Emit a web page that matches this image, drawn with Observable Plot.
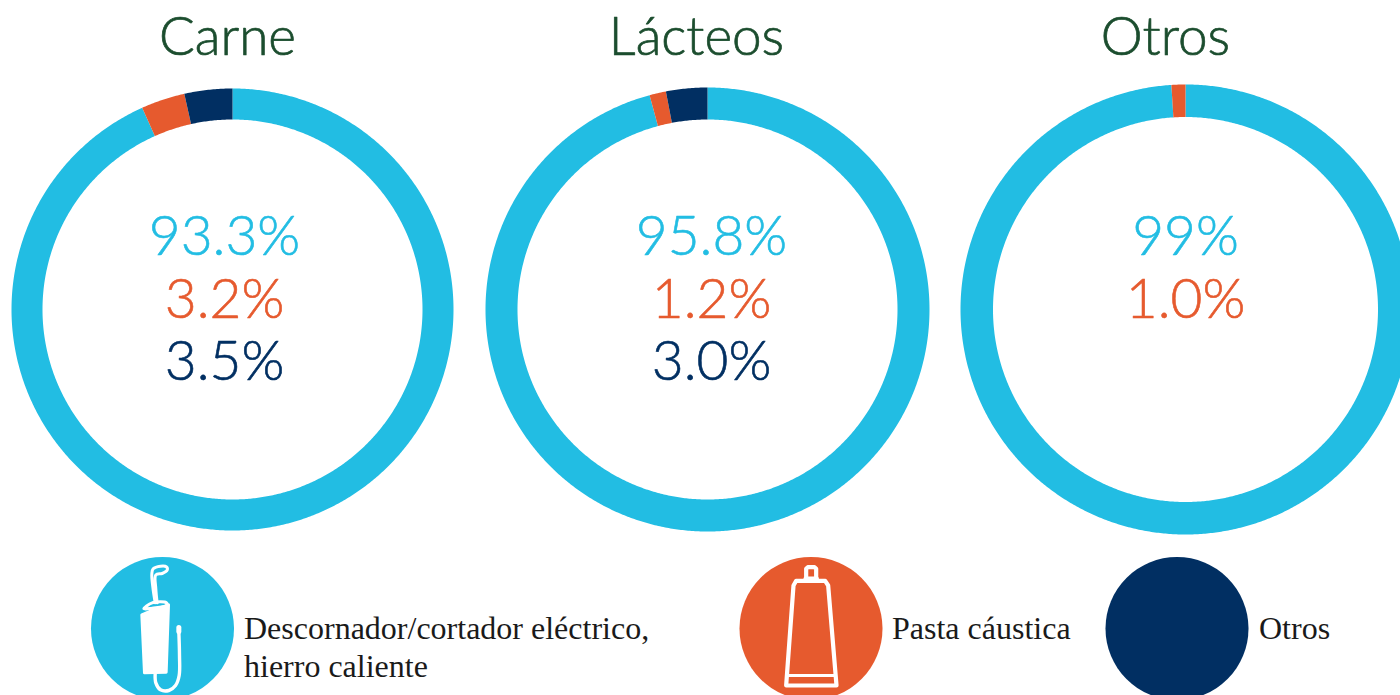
<!DOCTYPE html>
<html>
<head>
<meta charset="utf-8">
<script src="https://cdn.jsdelivr.net/npm/d3@7"></script>
<script src="https://cdn.jsdelivr.net/npm/@observablehq/plot@0.6"></script>
<style>
html,body{margin:0;padding:0;background:#fff;overflow:hidden}
svg{display:block}
</style>
</head>
<body>
<div id="chart"></div>
<script>
const BLUE = "#22BDE3", ORANGE = "#E65A2E", NAVY = "#012F62", GREEN = "#1B4D2E";

const categories = ["Descornador/cortador eléctrico, hierro caliente", "Pasta cáustica", "Otros"];
const categoryColors = [BLUE, ORANGE, NAVY];
const groups = ["Carne", "Lácteos", "Otros"];
const carneValues = [93.3, 3.2, 3.5];
const lacteosValues = [95.8, 1.2, 3.0];
const otrosValues = [99, 1.0, 0];
const carneLabels = ["93.3%", "3.2%", "3.5%"];
const lacteosLabels = ["95.8%", "1.2%", "3.0%"];
const otrosLabels = ["99%", "1.0%"];

// layout of the three rings
const rings = [
  {name: groups[0], values: carneValues, labels: carneLabels, cx: 232, cy: 309, R: 221, r: 190, titleX: 227, labelX: 224},
  {name: groups[1], values: lacteosValues, labels: lacteosLabels, cx: 707, cy: 309, R: 222, r: 190, titleX: 696, labelX: 711},
  {name: groups[2], values: otrosValues, labels: otrosLabels, cx: 1185, cy: 309, R: 225, r: 192.5, titleX: 1165, labelX: 1185}
];

// ring slices as closed outlines, derived from the values
const slicePts = [];
rings.forEach((ring, i) => {
  let acc = 0;
  ring.values.forEach((v, j) => {
    if (!v) return;
    const a0 = acc / 100 * 2 * Math.PI, a1 = (acc + v) / 100 * 2 * Math.PI;
    acc += v;
    const n = Math.max(2, Math.ceil((a1 - a0) / 0.008));
    const id = `${i}-${j}`;
    const at = (rad, a) => ({id, color: categoryColors[j], x: ring.cx + rad * Math.sin(a), y: ring.cy - rad * Math.cos(a)});
    for (let k = 0; k <= n; k++) slicePts.push(at(ring.R, a0 + (a1 - a0) * k / n));
    for (let k = n; k >= 0; k--) slicePts.push(at(ring.r, a0 + (a1 - a0) * k / n));
  });
});

const titles = rings.map(r => ({x: r.titleX, y: 54, t: r.name}));
const baselines = [254, 317, 379];
const pctLabels = rings.flatMap(r => r.labels.map((t, j) => ({x: r.labelX, y: baselines[j], t, color: categoryColors[j]})));

const legendDots = [{x: 162, y: 628, c: BLUE}, {x: 810.5, y: 628, c: ORANGE}, {x: 1176.5, y: 628, c: NAVY}];
const legendText = [
  {x: 243.5, y: 640, t: "Descornador/cortador eléctrico,"},
  {x: 243.5, y: 678, t: "hierro caliente"},
  {x: 891.5, y: 640, t: categories[1]},
  {x: 1258.5, y: 640, t: categories[2]}
];

// Icon outlines (white pictograms inside the legend discs)
const toIcon = (ox, oy, id, pts) => pts.map(([a, b]) => ({id, x: ox + a / 3, y: oy + b / 3}));
const tubeStroke = toIcon(730, 545, "body", [[167,420],[318,420],[293,120],[284,106],[197,106],[189,120],[167,420]]);
const tubeBand = toIcon(730, 545, "band", [[172,390],[313,390]]);
const tubeNeck = toIcon(730, 545, "neck", [[227,100],[227,70],[232,65],[252,65],[257,70],[257,100]]);
const tubeNeckBar = toIcon(730, 545, "neck3", [[225,99],[259,99]]);

const dehornerBody = toIcon(80, 545, "b", [[184,208],[212,196],[264,178],[257,380],[192,382]]);
const dehornerTop = toIcon(80, 545, "t", [[190,190],[215,172],[258,172],[258,180],[215,188]]);
const dehornerRod = toIcon(80, 545, "r", [[224,172],[217,125],[214,85],[218,70],[240,62],[258,64],[260,74],[245,84],[226,88],[226,130],[230,172]]);
const dehornerCord = toIcon(80, 545, "c", [[224,385],[226,412],[240,433],[265,435],[285,420],[296,390],[297,330],[295,258]]);
const dehornerPlug = toIcon(80, 545, "p", [[295,258],[295,246]]);

const white = {stroke: "white", fill: "none"};
const chart = Plot.plot({
  width: 1400, height: 695,
  margin: 0,
  x: {domain: [0, 1400], range: [0, 1400], axis: null},
  y: {domain: [0, 695], range: [0, 695], axis: null},
  color: {type: "identity"},
  style: {background: "white"},
  marks: [
    Plot.line(slicePts, {x: "x", y: "y", z: "id", fill: "color", stroke: null, curve: "linear-closed"}),
    Plot.text(titles, {x: "x", y: "y", text: "t", fill: GREEN, stroke: GREEN, strokeWidth: 0.7, fontSize: 53, fontFamily: "Lato", fontWeight: 300, lineAnchor: "bottom", dy: 0}),
    Plot.text(pctLabels, {x: "x", y: "y", text: "t", fill: "color", stroke: "color", strokeWidth: 0.6, fontSize: 55, fontFamily: "Lato", fontWeight: 300, lineAnchor: "bottom", dy: 0}),
    Plot.dot(legendDots, {x: "x", y: "y", r: 71.5, fill: "c", stroke: null}),
    Plot.text(legendText, {x: "x", y: "y", text: "t", textAnchor: "start", fill: "#1a1a1a", fontSize: 32, fontFamily: "Liberation Serif", lineAnchor: "bottom", dy: -2}),
    Plot.line(tubeStroke, {x: "x", y: "y", ...white, strokeWidth: 4.2, curve: "linear"}),
    Plot.line(tubeBand, {x: "x", y: "y", ...white, strokeWidth: 3}),
    Plot.line(tubeNeck, {x: "x", y: "y", ...white, strokeWidth: 4.2}),
    Plot.line(tubeNeckBar, {x: "x", y: "y", ...white, strokeWidth: 4}),
    Plot.line(dehornerBody, {x: "x", y: "y", stroke: "white", fill: "white", strokeWidth: 3, curve: "linear-closed"}),
    Plot.line(dehornerTop, {x: "x", y: "y", stroke: "white", strokeWidth: 3, fill: "none", curve: "catmull-rom-closed"}),
    Plot.line(dehornerRod, {x: "x", y: "y", ...white, strokeWidth: 3, curve: "catmull-rom"}),
    Plot.line(dehornerCord, {x: "x", y: "y", ...white, strokeWidth: 3.4, curve: "catmull-rom"}),
    Plot.line(dehornerPlug, {x: "x", y: "y", ...white, strokeWidth: 5})
  ]
});
document.getElementById("chart").appendChild(chart);
</script>
</body>
</html>
